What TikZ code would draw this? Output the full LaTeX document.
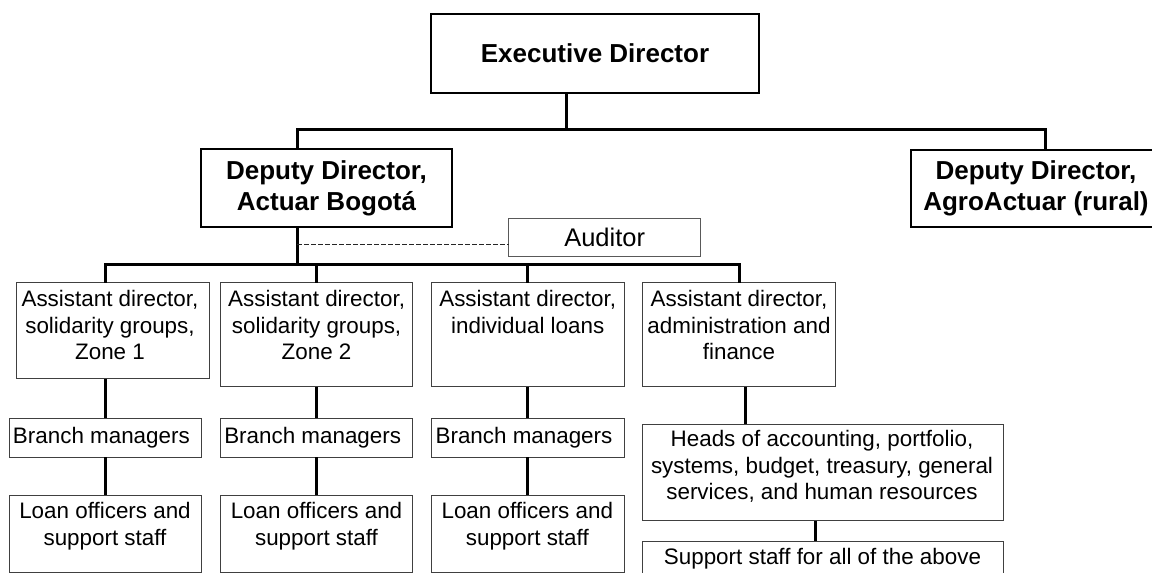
\documentclass[tikz,border=0pt]{standalone}
\usepackage{fontspec}
\setmainfont{Liberation Sans}
\begin{document}
\begin{tikzpicture}[x=1pt, y=-1pt,
  conn/.style={line width=3pt, black},
  dotconn/.style={line width=1.2pt, black!85, dash pattern=on 4.5pt off 2.5pt},
  headbox/.style={draw=black, line width=2pt, inner sep=0pt, outer sep=0pt,
    anchor=north west, align=center, font=\fontsize{26}{31}\selectfont\bfseries},
  unitbox/.style={draw=black!75, line width=1pt, inner sep=0pt, outer sep=0pt,
    anchor=north west},
  unittext/.style={inner sep=0pt, align=center, font=\fontsize{22.4}{26.5}\selectfont},
]
\useasboundingbox (0,0) rectangle (1152,573);
\fill[white] (0,0) rectangle (1152,573);
\clip (0,0) rectangle (1152,573);

% directors
\node[headbox, minimum width=328pt, minimum height=79pt] (exec) at (431,14) {Executive Director};
\node[headbox, minimum width=251pt, minimum height=78pt] (depL) at (201,149) {Deputy Director,\\Actuar Bogotá};
\node[headbox, minimum width=250pt, minimum height=77pt] (depR) at (911,149.5) {Deputy Director,\\AgroActuar (rural)};
\node[unitbox, draw=black!65, minimum width=192pt, minimum height=38.5pt,
  font=\fontsize{25.5}{30}\selectfont] (aud) at (508.7,218.3) {Auditor};

% assistant directors
\node[unitbox, minimum width=193pt, minimum height=96pt] (a1) at (16,282.5) {};
\node[unitbox, minimum width=192.5pt, minimum height=104pt] (a2) at (220.4,282.5) {};
\node[unitbox, minimum width=193pt, minimum height=104pt] (a3) at (431.3,282.5) {};
\node[unitbox, minimum width=193pt, minimum height=104pt] (a4) at (642.5,282.5) {};
\node[unittext] (a1t) at (110,325) {Assistant director,\\solidarity groups,\\Zone 1};
\node[unittext] (a2t) at (316.6,325) {Assistant director,\\solidarity groups,\\Zone 2};
\node[unittext] (a3t) at (527.7,312) {Assistant director,\\individual loans};
\node[unittext] (a4t) at (739,325) {Assistant director,\\administration and\\finance};

% branch managers
\node[unitbox, minimum width=192.5pt, minimum height=39pt] (br1) at (9.2,418.3) {};
\node[unitbox, minimum width=192.5pt, minimum height=39pt] (br2) at (220.4,418.3) {};
\node[unitbox, minimum width=193pt, minimum height=39pt] (br3) at (431.3,418.3) {};
\node[unittext] (br1t) at (101.4,437.5) {Branch managers};
\node[unittext] (br2t) at (312.7,437.5) {Branch managers};
\node[unittext] (br3t) at (524,437.5) {Branch managers};

% loan officers
\node[unitbox, minimum width=192.5pt, minimum height=77pt] (lo1) at (9.2,495) {};
\node[unitbox, minimum width=192.5pt, minimum height=77pt] (lo2) at (220.4,495) {};
\node[unitbox, minimum width=193pt, minimum height=77pt] (lo3) at (431.3,495) {};
\node[unittext] (lo1t) at (105,526) {Loan officers and\\support staff};
\node[unittext] (lo2t) at (316.5,526) {Loan officers and\\support staff};
\node[unittext] (lo3t) at (527.3,526) {Loan officers and\\support staff};

% administration and finance units
\node[unitbox, minimum width=361pt, minimum height=96.4pt] (hd) at (642.5,424.3) {};
\node[unitbox, minimum width=361pt, minimum height=45pt] (sp) at (642.5,541) {};
\node[unittext] (hdt) at (822,466.5) {Heads of accounting, portfolio,\\systems, budget, treasury, general\\services, and human resources};
\node[unittext] (spt) at (822.5,558.5) {Support staff for all of the above};

% reporting lines
\coordinate (topbus) at (0,129.5);
\coordinate (midbus) at (0,264);
\coordinate (audline) at (0,244.5);
\coordinate (execdrop) at ([xshift=-29pt]exec.south);
\coordinate (depLtop) at ([xshift=-29.5pt]depL.north);
\coordinate (depLbot) at ([xshift=-29.5pt]depL.south);
\coordinate (depRtop) at ([xshift=9pt]depR.north);
\coordinate (a4drop) at ([xshift=6.5pt]a4.south);
\coordinate (hddrop) at ([xshift=-7.5pt]hd.south);

\draw[conn] (execdrop) -- (execdrop |- topbus);
\draw[conn] (depLtop) -- (depLtop |- topbus) -- (depRtop |- topbus) -- (depRtop);
\draw[conn] (depLbot) -- (depLbot |- midbus);
\draw[dotconn] (depLbot |- audline) -- (aud.west |- audline);

\draw[conn] (br1.north |- a1.north) -- (br1.north |- midbus) -- (a4.north |- midbus) -- (a4.north);
\draw[conn] (a2.north |- midbus) -- (a2.north);
\draw[conn] (a3.north |- midbus) -- (a3.north);

\draw[conn] (br1.north |- a1.south) -- (br1.north);
\draw[conn] (br2.north |- a2.south) -- (br2.north);
\draw[conn] (br3.north |- a3.south) -- (br3.north);
\draw[conn] (br1.south) -- (lo1.north);
\draw[conn] (br2.south) -- (lo2.north);
\draw[conn] (br3.south) -- (lo3.north);

\draw[conn] (a4drop) -- (a4drop |- hd.north);
\draw[conn] (hddrop) -- (hddrop |- sp.north);
\end{tikzpicture}
\end{document}
